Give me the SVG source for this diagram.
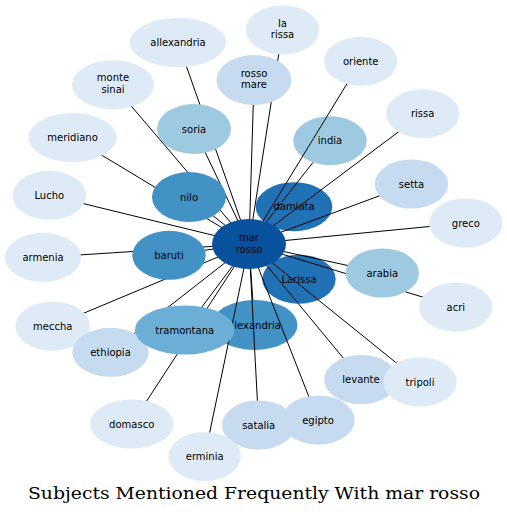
<svg xmlns="http://www.w3.org/2000/svg" width="507" height="517" viewBox="0 0 507 517">
<style>
.n text{font-family:"DejaVu Sans",sans-serif;font-size:10px;fill:#000;text-anchor:middle}
.c0{fill:#08519c}.c1{fill:#2171b5}.c2{fill:#4292c6}.c3{fill:#6baed6}.c4{fill:#9ecae1}.c5{fill:#c6dbef}.c6{fill:#deebf7}
#edges line{stroke:#000;stroke-width:1}
.title{font-family:"DejaVu Serif",serif;font-size:17px;fill:#000;text-anchor:middle}
</style>
<rect width="507" height="517" fill="#fff"/>
<g id="under">
<g id="n-india" class="n"><ellipse cx="330" cy="140.7" rx="36.7" ry="24.5" class="c4"/><text x="330" y="144.2">india</text></g>
<g id="n-damiata" class="n"><ellipse cx="294" cy="206.7" rx="38.3" ry="24.5" class="c1"/><text x="294" y="210.2">damiata</text></g>
<g id="n-Larissa" class="n"><ellipse cx="299" cy="279.2" rx="36.7" ry="24.5" class="c1"/><text x="299" y="282.7">Larissa</text></g>
<g id="n-alexandria" class="n"><ellipse cx="254.5" cy="325" rx="43" ry="25" class="c2"/><text x="254.5" y="328.5">alexandria</text></g>
</g>
<g id="edges">
<line x1="249" y1="244" x2="178" y2="42.5"/>
<line x1="249" y1="244" x2="282.5" y2="30"/>
<line x1="249" y1="244" x2="254" y2="80"/>
<line x1="249" y1="244" x2="360.7" y2="61.3"/>
<line x1="249" y1="244" x2="113" y2="84.7"/>
<line x1="249" y1="244" x2="422.7" y2="113.7"/>
<line x1="249" y1="244" x2="194" y2="129"/>
<line x1="249" y1="244" x2="313" y2="162.4"/>
<line x1="249" y1="244" x2="72.5" y2="137.5"/>
<line x1="249" y1="244" x2="411.5" y2="184"/>
<line x1="249" y1="244" x2="49.3" y2="195.3"/>
<line x1="249" y1="244" x2="189" y2="197"/>
<line x1="249" y1="244" x2="270.6" y2="226.1"/>
<line x1="249" y1="244" x2="465.8" y2="223"/>
<line x1="249" y1="244" x2="43" y2="257.3"/>
<line x1="249" y1="244" x2="169" y2="255.3"/>
<line x1="249" y1="244" x2="382.3" y2="273"/>
<line x1="249" y1="244" x2="273.8" y2="261.4"/>
<line x1="249" y1="244" x2="455.8" y2="307.2"/>
<line x1="249" y1="244" x2="52.7" y2="326.2"/>
<line x1="249" y1="244" x2="110.5" y2="352.3"/>
<line x1="249" y1="244" x2="184.7" y2="330"/>
<line x1="249" y1="244" x2="252.8" y2="300"/>
<line x1="249" y1="244" x2="361" y2="379.5"/>
<line x1="249" y1="244" x2="420" y2="382"/>
<line x1="249" y1="244" x2="131.7" y2="424"/>
<line x1="249" y1="244" x2="258.7" y2="425"/>
<line x1="249" y1="244" x2="318" y2="420"/>
<line x1="249" y1="244" x2="204.7" y2="456.5"/>
</g>
<g id="nodes">
<g id="n-allexandria" class="n"><ellipse cx="178" cy="42.5" rx="48" ry="24.5" class="c6"/><text x="178" y="46">allexandria</text></g>
<g id="n-la-rissa" class="n"><ellipse cx="282.5" cy="30" rx="36.7" ry="24.5" class="c6"/><text x="282.5" y="26.7">la</text><text x="282.5" y="38.4">rissa</text></g>
<g id="n-rosso-mare" class="n"><ellipse cx="254" cy="80" rx="37.5" ry="25" class="c5"/><text x="254" y="76.6">rosso</text><text x="254" y="88.3">mare</text></g>
<g id="n-oriente" class="n"><ellipse cx="360.7" cy="61.3" rx="36.7" ry="24.5" class="c6"/><text x="360.7" y="64.8">oriente</text></g>
<g id="n-monte-sinai" class="n"><ellipse cx="113" cy="84.7" rx="41" ry="24.5" class="c6"/><text x="113" y="81.2">monte</text><text x="113" y="92.9">sinai</text></g>
<g id="n-rissa" class="n"><ellipse cx="422.7" cy="113.7" rx="36.7" ry="24.5" class="c6"/><text x="422.7" y="117.2">rissa</text></g>
<g id="n-soria" class="n"><ellipse cx="194" cy="129" rx="37" ry="25" class="c4"/><text x="194" y="132.5">soria</text></g>
<g id="n-meridiano" class="n"><ellipse cx="72.5" cy="137.5" rx="44" ry="24.5" class="c6"/><text x="72.5" y="141">meridiano</text></g>
<g id="n-setta" class="n"><ellipse cx="411.5" cy="184" rx="36.7" ry="24.5" class="c5"/><text x="411.5" y="187.5">setta</text></g>
<g id="n-Lucho" class="n"><ellipse cx="49.3" cy="195.3" rx="36.7" ry="24.5" class="c6"/><text x="49.3" y="198.8">Lucho</text></g>
<g id="n-nilo" class="n"><ellipse cx="189" cy="197" rx="37" ry="25" class="c2"/><text x="189" y="200.5">nilo</text></g>
<g id="n-greco" class="n"><ellipse cx="465.8" cy="223" rx="36.7" ry="24.5" class="c6"/><text x="465.8" y="226.5">greco</text></g>
<g id="n-armenia" class="n"><ellipse cx="43" cy="257.3" rx="38" ry="24.5" class="c6"/><text x="43" y="260.8">armenia</text></g>
<g id="n-baruti" class="n"><ellipse cx="169" cy="255.3" rx="36.7" ry="24.5" class="c2"/><text x="169" y="258.8">baruti</text></g>
<g id="n-arabia" class="n"><ellipse cx="382.3" cy="273" rx="36.7" ry="24.5" class="c4"/><text x="382.3" y="276.5">arabia</text></g>
<g id="n-acri" class="n"><ellipse cx="455.8" cy="307.2" rx="36.7" ry="24.5" class="c6"/><text x="455.8" y="310.7">acri</text></g>
<g id="n-meccha" class="n"><ellipse cx="52.7" cy="326.2" rx="37.3" ry="24.5" class="c6"/><text x="52.7" y="329.7">meccha</text></g>
<g id="n-ethiopia" class="n"><ellipse cx="110.5" cy="352.3" rx="38.2" ry="24.5" class="c5"/><text x="110.5" y="355.8">ethiopia</text></g>
<g id="n-tramontana" class="n"><ellipse cx="184.7" cy="330" rx="49.7" ry="24.5" class="c3"/><text x="184.7" y="333.5">tramontana</text></g>
<g id="n-levante" class="n"><ellipse cx="361" cy="379.5" rx="36.7" ry="24.5" class="c5"/><text x="361" y="383">levante</text></g>
<g id="n-tripoli" class="n"><ellipse cx="420" cy="382" rx="36.7" ry="24.5" class="c6"/><text x="420" y="385.5">tripoli</text></g>
<g id="n-domasco" class="n"><ellipse cx="131.7" cy="424" rx="41.7" ry="24.5" class="c6"/><text x="131.7" y="427.5">domasco</text></g>
<g id="n-satalia" class="n"><ellipse cx="258.7" cy="425" rx="36.7" ry="24.5" class="c5"/><text x="258.7" y="428.5">satalia</text></g>
<g id="n-egipto" class="n"><ellipse cx="318" cy="420" rx="36.7" ry="24.5" class="c5"/><text x="318" y="423.5">egipto</text></g>
<g id="n-erminia" class="n"><ellipse cx="204.7" cy="456.5" rx="36.3" ry="24.5" class="c6"/><text x="204.7" y="460">erminia</text></g>
<g id="n-mar-rosso" class="n"><ellipse cx="249" cy="244" rx="37" ry="25" class="c0"/><text x="249" y="240.8">mar</text><text x="249" y="252.5">rosso</text></g>
</g>
<text class="title" x="254" y="499" textLength="452" lengthAdjust="spacingAndGlyphs">Subjects Mentioned Frequently With mar rosso</text>
</svg>
